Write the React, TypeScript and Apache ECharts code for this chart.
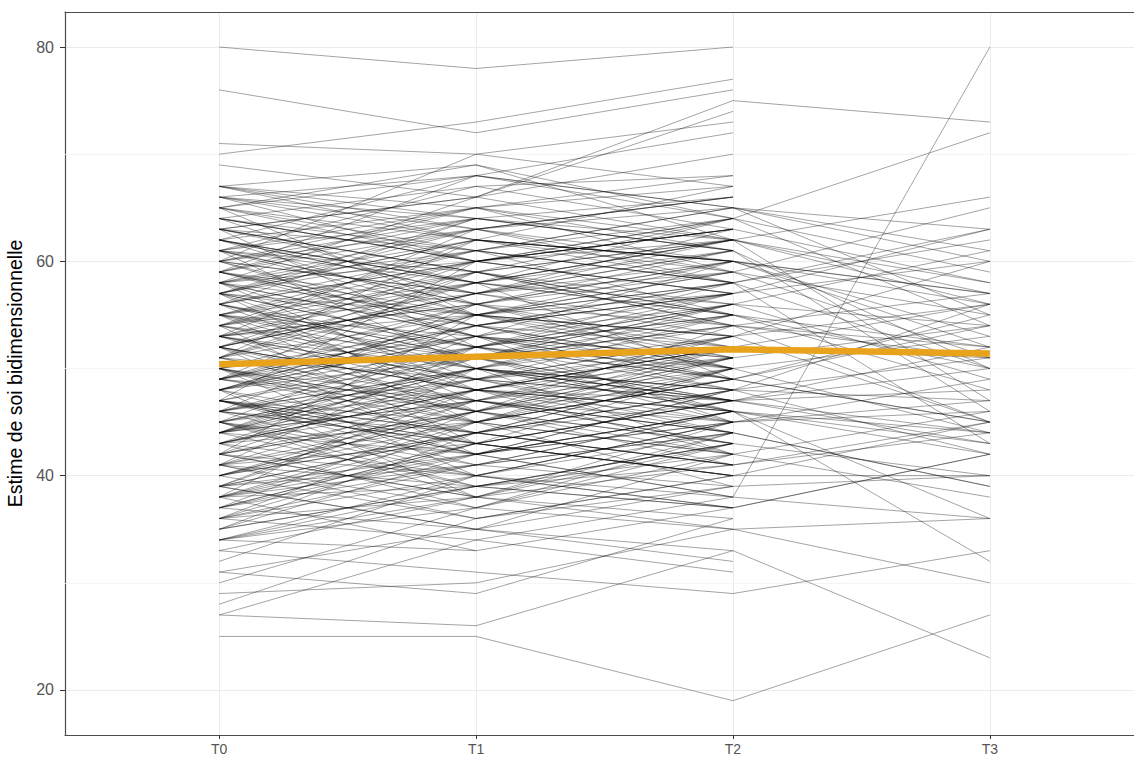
import React, { useEffect, useRef } from "react";
import * as echarts from "echarts";

const timeLabels = ["T0", "T1", "T2", "T3"];
const meanScores = [50.4, 51.1, 51.8, 51.4];
const majorYTicks = [20, 40, 60, 80];
const minorYGrid = [30, 50, 70];

const scoreT0 = [
  80, 76, 71, 70, 69, 67, 45, 27, 25, 33,
  27, 28, 29, 30, 31, 32, 34, 35, 36, 37,
  38, 39, 40, 41, 42, 43, 44, 45, 46, 47,
  48, 49, 50, 51, 52, 53, 54, 55, 56, 57,
  58, 59, 60, 61, 62, 63, 64, 65, 66, 67,
  36, 58, 42, 63, 39, 54, 47, 61, 44, 57,
  50, 38, 65, 41, 53, 48, 59, 35, 62, 46,
  55, 40, 52, 37, 60, 43, 56, 49, 64, 51,
  45, 58, 34, 53, 47, 66, 42, 57, 39, 61,
  50, 44, 55, 36, 63, 48, 52, 41, 59, 46,
  54, 38, 60, 45, 67, 49, 56, 43, 62, 51,
  47, 53, 37, 58, 44, 65, 40, 57, 50, 55,
  42, 63, 48, 35, 59, 46, 52, 61, 39, 54,
  44, 57, 49, 41, 64, 47, 53, 38, 60, 50,
  56, 43, 66, 45, 52, 37, 58, 48, 62, 40,
  55, 46, 33, 61, 51, 42, 57, 49, 64, 38,
  53, 45, 59, 47, 54, 41, 63, 49, 36, 56,
  58, 44, 52, 39, 60, 46, 55, 43, 65, 50,
  48, 61, 34, 57, 45, 53, 40, 67, 51, 47,
  62, 44, 56, 39, 54, 31, 59, 48, 52, 43,
  36, 41, 47, 52, 58, 63, 44, 55, 49, 60,
  38, 45, 53, 57, 64, 40, 48, 51, 59, 66,
  35, 43, 50, 54, 61, 39, 46, 56, 62, 67,
  37, 42, 48, 53, 57, 65, 44, 50, 59, 34,
  41, 46, 52, 55, 60, 63, 38, 47, 54, 58,
  39, 45, 49, 56, 62, 43, 51, 57, 64, 36,
  40, 44, 50, 53, 58, 61, 46, 55, 42, 48,
  37, 47, 52, 57, 63, 41, 49, 54, 60, 65,
  43, 50, 56, 59, 38, 45, 53, 62, 47, 51,
  34, 42, 49, 55, 61, 66, 44, 58, 52, 46,
];

const scoreT1 = [
  78, 72, 70, 73, 66, 69, 42, 26, 25, 31,
  34, 36, 30, 37, 29, 40, 33, 44, 38, 35,
  43, 41, 47, 37, 50, 45, 39, 48, 52, 44,
  55, 46, 54, 49, 58, 50, 57, 53, 60, 55,
  62, 56, 64, 58, 65, 61, 67, 62, 68, 64,
  45, 48, 55, 52, 48, 43, 60, 50, 53, 46,
  40, 50, 55, 52, 63, 38, 68, 42, 57, 56,
  45, 36, 47, 46, 70, 37, 51, 59, 56, 62,
  41, 66, 40, 48, 51, 60, 46, 52, 44, 67,
  44, 49, 61, 34, 59, 53, 42, 43, 63, 40,
  58, 39, 54, 50, 63, 45, 64, 48, 55, 57,
  43, 56, 41, 53, 47, 69, 45, 61, 47, 50,
  38, 66, 51, 39, 54, 50, 45, 65, 35, 60,
  52, 49, 55, 36, 61, 42, 59, 45, 57, 53,
  52, 49, 63, 38, 57, 43, 55, 42, 68, 46,
  59, 44, 38, 56, 58, 40, 64, 47, 60, 33,
  46, 54, 53, 41, 62, 48, 58, 56, 43, 47,
  51, 42, 60, 47, 53, 49, 48, 51, 60, 43,
  54, 59, 37, 63, 39, 55, 44, 62, 46, 52,
  58, 50, 50, 42, 49, 35, 65, 44, 48, 40,
  41, 45, 43, 57, 61, 59, 50, 51, 54, 63,
  42, 40, 58, 52, 60, 46, 53, 47, 64, 62,
  39, 47, 46, 59, 55, 44, 51, 60, 58, 65,
  43, 38, 52, 49, 62, 61, 48, 56, 54, 39,
  46, 50, 48, 60, 57, 66, 44, 42, 51, 63,
  35, 49, 53, 51, 58, 48, 55, 62, 60, 40,
  44, 51, 45, 56, 53, 64, 43, 58, 47, 55,
  42, 45, 57, 54, 59, 39, 52, 50, 65, 68,
  48, 46, 61, 55, 41, 50, 49, 57, 44, 59,
  38, 46, 54, 52, 56, 64, 47, 60, 48, 43,
];

const scoreT2 = [
  80, 76, 73, 77, 75, 64, 38, 33, 19, 29,
  31, 40, 35, 42, 36, 38, 37, 41, 45, 33,
  47, 39, 44, 43, 48, 52, 41, 46, 55, 50,
  53, 43, 58, 47, 61, 46, 59, 51, 63, 52,
  60, 54, 62, 55, 67, 58, 68, 60, 65, 61,
  50, 44, 57, 48, 52, 40, 62, 55, 45, 49,
  37, 56, 51, 49, 66, 36, 64, 48, 63, 60,
  42, 40, 53, 43, 67, 35, 57, 54, 52, 58,
  46, 74, 45, 51, 47, 57, 54, 50, 41, 63,
  48, 52, 65, 38, 56, 60, 45, 50, 59, 44,
  49, 43, 57, 42, 66, 39, 61, 47, 53, 62,
  40, 50, 46, 56, 43, 62, 51, 55, 45, 54,
  44, 62, 56, 37, 52, 48, 49, 59, 42, 64,
  46, 47, 58, 39, 65, 38, 55, 49, 61, 51,
  58, 45, 60, 41, 53, 47, 50, 46, 65, 42,
  null, null, null, null, null, null, null, null, null, null,
  52, 50, 48, 44, 60, 53, 62, 51, 40, 43,
  54, 48, 57, 44, 49, 55, 46, 45, 63, 47,
  49, 54, 44, 58, 37, 60, 47, 59, 41, 56,
  64, 47, 53, 46, 44, 32, 61, 50, 42, 45,
  44, 49, 47, 60, 58, 62, 46, 56, 50, 65,
  46, 45, 55, 56, 63, 50, 49, 52, 61, 67,
  42, 44, 51, 55, 59, 48, 47, 63, 62, 68,
  40, 43, 57, 53, 60, 64, 52, 59, 57, 43,
  51, 47, 45, 57, 61, 70, 41, 46, 55, 66,
  39, 53, 50, 54, 62, 52, 59, 60, 63, 37,
  48, 46, 49, 61, 57, 66, 40, 56, 51, 58,
  45, 42, 54, 58, 64, 43, 55, 48, 62, 72,
  52, null, 58, 53, null, 47, 51, null, 41, 62,
  35, null, 57, 49, 60, null, 50, 64, 46, null,
];

const scoreT3 = [
  null, null, null, null, 73, 72, 80, 23, 27, 33,
  null, null, 30, null, null, 36, null, 45, null, null,
  52, null, null, 40, null, 56, null, 42, null, null,
  60, null, null, 44, null, 43, null, 54, null, null,
  57, null, null, 50, null, 63, null, null, 61, null,
  null, 39, null, 47, null, 45, 66, null, 49, null,
  42, null, null, 55, null, null, 59, null, null, 53,
  38, null, 56, null, null, 36, null, 52, null, 62,
  null, null, 46, null, 48, null, 57, null, 44, null,
  51, null, 63, null, 54, null, 47, null, 65, null,
  45, null, 60, null, null, 40, null, 50, null, 58,
  null, 53, null, 49, null, 56, null, 52, null, 45,
  null, 57, null, 42, null, 56, null, 51, null, 54,
  44, null, 50, null, 55, null, 48, null, 46, null,
  43, null, 56, null, 45, null, 44, null, 60, null,
  null, null, null, null, null, null, null, null, null, null,
  51, null, 42, null, 52, null, 47, null, 40, null,
  51, null, 63, null, 54, null, 32, null, 58, null,
  45, null, 39, null, null, 57, null, 55, null, 61,
  null, 43, null, 36, null, null, 50, null, 46, null,
];

const FONT = "'Liberation Sans', Arial, Helvetica, sans-serif";
const BORDER = { color: "#4d4d4d", width: 1.2 };

export default function App() {
  const ref = useRef<HTMLDivElement>(null);

  useEffect(() => {
    document.body.style.margin = "0";
    document.body.style.overflow = "hidden";
    if (!ref.current) return;
    const chart = echarts.init(ref.current, undefined, { renderer: "svg" });

    const cols = [scoreT0, scoreT1, scoreT2, scoreT3];
    const subjectSeries: any[] = [];
    for (let i = 0; i < scoreT0.length; i++) {
      const pts: number[][] = [];
      for (let t = 0; t < cols.length; t++) {
        const v = cols[t][i];
        if (v === null || v === undefined) break;
        pts.push([t, v]);
      }
      subjectSeries.push({
        type: "line",
        data: pts,
        symbol: "none",
        silent: true,
        z: 2,
        lineStyle: { color: "rgba(0,0,0,0.36)", width: 1 },
      });
    }

    const option: any = {
      animation: false,
      backgroundColor: "#ffffff",
      grid: {
        left: 65,
        top: 12,
        width: 1079,
        height: 723,
        show: false,
        containLabel: false,
        outerBoundsMode: "none",
      },
      xAxis: [
        {
          type: "value",
          min: -0.6,
          max: 3.6,
          splitNumber: 4,
          position: "bottom",
          axisLine: { show: true, onZero: false, lineStyle: BORDER },
          axisTick: {
            show: true,
            customValues: [0, 1, 2, 3],
            length: 4,
            lineStyle: { color: "#333333", width: 1 },
          },
          axisLabel: {
            customValues: [0, 1, 2, 3],
            margin: 7,
            fontSize: 14,
            color: "#555555",
            fontFamily: FONT,
            formatter: (v: number) =>
              Number.isInteger(v) && v >= 0 && v < timeLabels.length ? timeLabels[v] : "",
          },
          splitLine: { show: true, lineStyle: { color: "#ebebeb", width: 1 } },
        },
        {
          type: "value",
          min: -0.6,
          max: 3.6,
          position: "top",
          axisLine: { show: true, onZero: false, lineStyle: BORDER },
          axisTick: { show: false },
          axisLabel: { show: false },
          splitLine: { show: false },
        },
      ],
      yAxis: {
        type: "value",
        min: 15.8,
        max: 83.27,
        splitNumber: 3,
        name: "Estime de soi bidimensionnelle",
        nameLocation: "middle",
        nameGap: 37,
        nameTextStyle: { fontSize: 19.5, color: "#000000", fontFamily: FONT },
        axisLine: { show: true, onZero: false, lineStyle: BORDER },
        axisTick: {
          show: true,
          customValues: majorYTicks,
          length: 5,
          lineStyle: { color: "#333333", width: 1 },
        },
        axisLabel: {
          customValues: majorYTicks,
          margin: 11,
          fontSize: 16,
          color: "#555555",
          fontFamily: FONT,
          formatter: (v: number) => (majorYTicks.includes(v) ? String(v) : ""),
        },
        splitLine: { show: true, lineStyle: { color: "#ebebeb", width: 1 } },
      },
      series: [
        {
          type: "line",
          data: [],
          silent: true,
          z: 1,
          markLine: {
            silent: true,
            z: 1,
            symbol: ["none", "none"],
            label: { show: false },
            lineStyle: { color: "#f2f2f2", width: 0.8, type: "solid" },
            data: minorYGrid.map((y) => ({ yAxis: y })),
          },
        },
        ...subjectSeries,
        {
          type: "line",
          data: meanScores.map((v, i) => [i, v]),
          symbol: "none",
          silent: true,
          z: 10,
          lineStyle: { color: "#E8A21C", width: 6.5 },
        },
      ],
    };

    chart.setOption(option);
    return () => chart.dispose();
  }, []);

  return <div ref={ref} style={{ width: 1160, height: 758 }} />;
}
